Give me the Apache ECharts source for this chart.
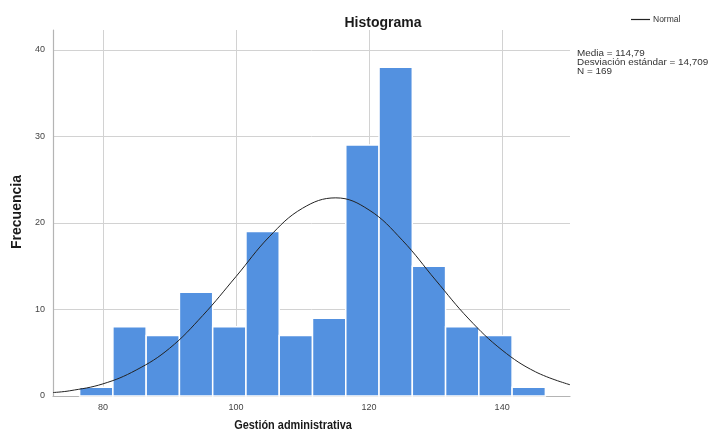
<!DOCTYPE html>
<html>
<head>
<meta charset="utf-8">
<script src="https://cdn.jsdelivr.net/npm/echarts@6/dist/echarts.min.js"></script>
<style>html,body{margin:0;padding:0;background:#fff;}#c{width:708px;height:440px;}</style>
</head>
<body>
<div id="c"></div>
<script>
var binLow = [76.5, 81.5, 86.5, 91.5, 96.5, 101.5, 106.5, 111.5, 116.5, 121.5, 126.5, 131.5, 136.5, 141.5];
var binHigh = [81.5, 86.5, 91.5, 96.5, 101.5, 106.5, 111.5, 116.5, 121.5, 126.5, 131.5, 136.5, 141.5, 146.5];
var freq = [1, 8, 7, 12, 8, 19, 7, 9, 29, 38, 15, 8, 7, 1];
var curveX = [72.5, 75, 80, 85, 90, 95, 100, 105, 110, 115, 120, 125, 130, 135, 140, 145, 150.2];
var curveY = [0.4, 0.6, 1.4, 3.0, 5.5, 9.3, 13.8, 18.4, 21.7, 22.9, 21.5, 18.0, 13.4, 8.9, 5.3, 2.8, 1.3];
var statLines = ['Media = 114,79', 'Desviación estándar = 14,709', 'N = 169'];
var titleText = 'Histograma';
var xName = 'Gestión administrativa';
var yName = 'Frecuencia';

var FONT = 'Liberation Sans, Arial, sans-serif';
var chart = echarts.init(document.getElementById('c'));
var barData = binLow.map(function (l, i) { return [l, binHigh[i], freq[i]]; });
var lineData = curveX.map(function (x, i) { return [x, curveY[i]]; });

chart.setOption({
  animation: false,
  backgroundColor: '#fff',
  title: {
    text: titleText, left: 378, top: 11, textAlign: 'center',
    textStyle: { fontFamily: FONT, fontSize: 14, fontWeight: 'bold', color: '#1a1a1a' }
  },
  legend: {
    data: [{ name: 'Normal', icon: 'rect' }], left: 626, top: 10, itemWidth: 19, itemHeight: 1.2, itemGap: 3,
    textStyle: { fontFamily: FONT, fontSize: 8.5, color: '#333', padding: [0, 0, 0, -2] }
  },
  grid: { left: 53, right: 138, top: 30, bottom: 44, outerBoundsMode: 'none' },
  xAxis: {
    type: 'value', min: 72.5, max: 150.2, splitNumber: 4,
    axisLine: { show: true, lineStyle: { color: '#b4b4b4', width: 1.2 } },
    axisTick: { show: false },
    axisLabel: { showMinLabel: false, showMaxLabel: false, fontFamily: FONT, fontSize: 9, color: '#444', margin: 7 },
    splitLine: { show: true, showMinLine: false, showMaxLine: false, lineStyle: { color: '#d2d2d2', width: 1 } }
  },
  yAxis: {
    type: 'value', min: 0, max: 42.3, interval: 10,
    axisLine: { show: true, lineStyle: { color: '#b4b4b4', width: 1.2 } },
    axisTick: { show: false },
    axisLabel: { showMaxLabel: false, fontFamily: FONT, fontSize: 9, color: '#444', margin: 8 },
    splitLine: { show: true, showMinLine: false, showMaxLine: false, lineStyle: { color: '#d2d2d2', width: 1 } }
  },
  graphic: [{
    type: 'text', x: 577, y: 49, scaleX: 1.1,
    style: { text: statLines.join('\n'), fontFamily: FONT, fontSize: 9, lineHeight: 9, fill: '#333' }
  }, {
    type: 'text', x: 293, y: 425, scaleX: 0.84,
    style: { text: xName, fontFamily: FONT, fontSize: 13, fontWeight: 'bold', fill: '#1a1a1a', align: 'center', verticalAlign: 'middle' }
  }, {
    type: 'text', x: 17, y: 212, rotation: Math.PI / 2,
    style: { text: yName, fontFamily: FONT, fontSize: 14, fontWeight: 'bold', fill: '#1a1a1a', align: 'center', verticalAlign: 'middle' }
  }],
  series: [{
    type: 'custom', name: 'Frecuencia', z: 2,
    encode: { x: [0, 1], y: 2 },
    data: barData,
    renderItem: function (params, api) {
      var p0 = api.coord([api.value(0), api.value(2)]);
      var p1 = api.coord([api.value(1), 0]);
      return {
        type: 'rect',
        shape: { x: p0[0], y: p0[1], width: p1[0] - p0[0], height: p1[1] - p0[1] },
        style: { fill: '#5391E0', stroke: '#ffffff', lineWidth: 1.5 }
      };
    }
  }, {
    type: 'line', name: 'Normal', z: 3, data: lineData, smooth: 0.4, symbol: 'none',
    lineStyle: { color: '#222', width: 1 }, itemStyle: { color: '#222' }
  }]
});
</script>
</body>
</html>
